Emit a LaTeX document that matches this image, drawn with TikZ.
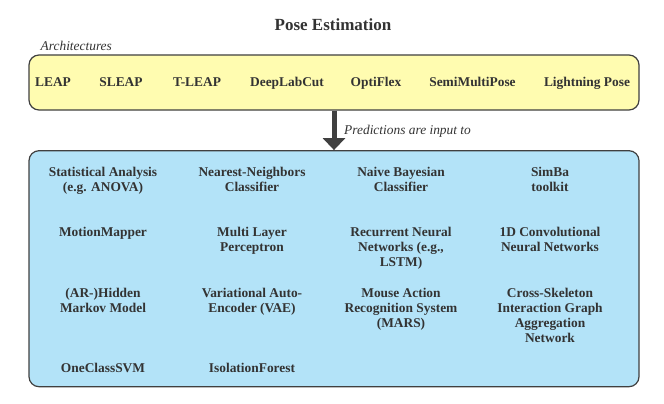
\documentclass[tikz,border=0pt]{standalone}
\usepackage{fontspec}
\newfontfamily\tms{LiberationSerif}[Extension=.ttf, UprightFont=*-Regular, BoldFont=*-Bold, ItalicFont=*-Italic, BoldItalicFont=*-BoldItalic]
\usetikzlibrary{arrows.meta}
\definecolor{txt}{HTML}{333333}
\definecolor{edge}{HTML}{404040}
\definecolor{yel}{HTML}{FFFCB0}
\definecolor{blu}{HTML}{B3E3F8}
\begin{document}
\begin{tikzpicture}[x=1pt,y=-1pt,
  box/.style={draw=edge, line width=1.2pt, rounded corners=10pt, inner sep=0pt},
  arch/.style={anchor=base, inner sep=0pt, text=txt, font=\tms\fontsize{13.4}{15}\selectfont\bfseries},
  method/.style={anchor=north, inner sep=0pt, align=center, text=txt, font=\tms\fontsize{13.4}{15}\selectfont\bfseries},
  note/.style={anchor=base west, inner sep=0pt, text=txt, font=\tms\fontsize{13.4}{15}\selectfont\itshape}]
\useasboundingbox (0,0) rectangle (664,404);
\node[anchor=base, inner sep=0pt, text=txt, font=\tms\fontsize{17}{20}\selectfont\bfseries] (title) at (333,31) {Pose Estimation};
\node[note] (archlbl) at (40.5,50.7) {Architectures};
\node[box, fill=yel, minimum width=610pt, minimum height=55pt] (archbox) at (334,82.5) {};
\node[box, fill=blu, minimum width=610pt, minimum height=236pt] (methbox) at (334,268.7) {};
\draw[edge, line width=5pt, -{Triangle[width=22pt,length=12pt]}] (archbox.south) -- (methbox.north);
\node[note] (pred) at (344,134) {Predictions are input to};
\node[arch] (a1) at (53,87) {LEAP};
\node[arch] (a2) at (121,87) {SLEAP};
\node[arch] (a3) at (197,87) {T-LEAP};
\node[arch] (a4) at (287,87) {DeepLabCut};
\node[arch] (a5) at (376,87) {OptiFlex};
\node[arch] (a6) at (472.5,87) {SemiMultiPose};
\node[arch] (a7) at (587,87) {Lightning Pose};
\node[method] (m11) at (103,167) {Statistical Analysis\\(e.g. ANOVA)};
\node[method] (m12) at (252,167) {Nearest-Neighbors\\Classifier};
\node[method] (m13) at (401,167) {Naive Bayesian\\Classifier};
\node[method] (m14) at (550,167) {SimBa\\toolkit};
\node[method] (m21) at (103,227) {MotionMapper};
\node[method] (m22) at (252,227) {Multi Layer\\Perceptron};
\node[method] (m23) at (401,227) {Recurrent Neural\\Networks (e.g.,\\LSTM)};
\node[method] (m24) at (550,227) {1D Convolutional\\Neural Networks};
\node[method] (m31) at (103,287.5) {(AR-)Hidden\\Markov Model};
\node[method] (m32) at (252,287.5) {Variational Auto-\\Encoder (VAE)};
\node[method] (m33) at (401,287.5) {Mouse Action\\Recognition System\\(MARS)};
\node[method] (m34) at (550,287.5) {Cross-Skeleton\\Interaction Graph\\Aggregation\\Network};
\node[method] (m41) at (103,362.5) {OneClassSVM};
\node[method] (m42) at (252,362.5) {IsolationForest};
\end{tikzpicture}
\end{document}
